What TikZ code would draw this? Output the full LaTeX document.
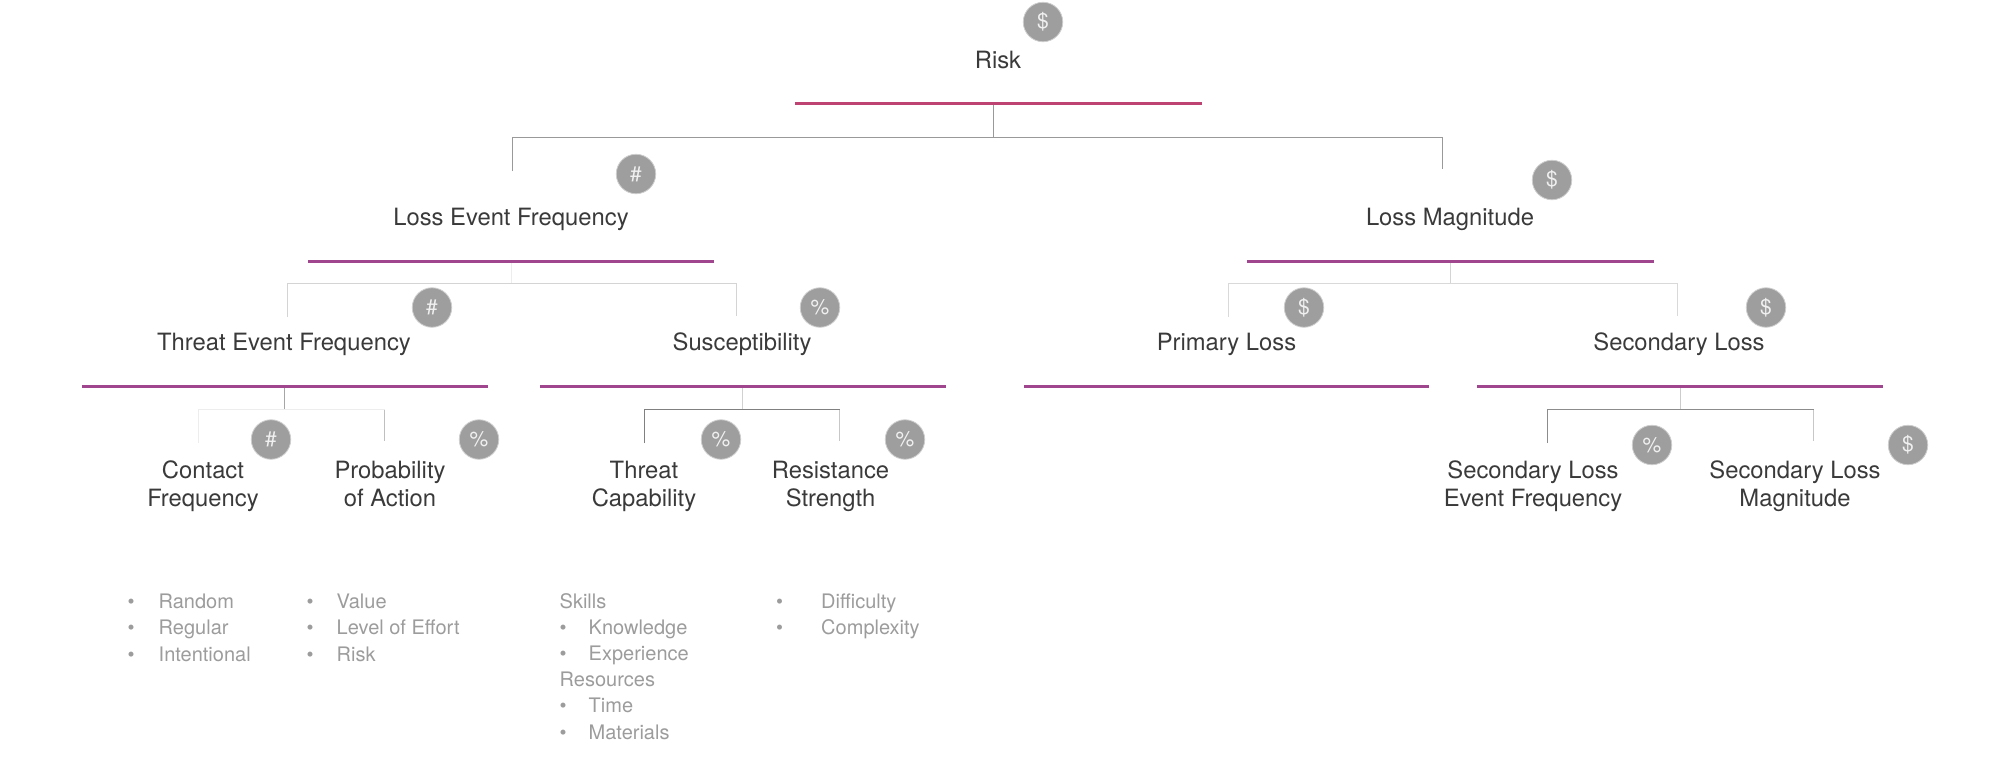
\documentclass[tikz,border=0pt]{standalone}
\usepackage{fontspec}
\setmainfont{TeX Gyre Heros}
\definecolor{inkc}{HTML}{3A3A3A}
\definecolor{listc}{HTML}{9C9C9C}
\definecolor{badgec}{HTML}{9E9E9E}
\definecolor{riskrule}{HTML}{BE4272}
\definecolor{purplerule}{HTML}{9F468F}
\tikzset{
  x=1pt,y=-1pt,
  label/.style={inner sep=0pt,align=center,text=inkc,font=\fontsize{23.8}{28}\selectfont,text height=17pt,text depth=5pt},
  badge/.style={circle,fill=badgec,draw=badgec!50,line width=0.8pt,minimum size=39.5pt,inner sep=0pt,text=white!94!black,font=\fontsize{21}{21}\selectfont},
  rulebar/.style={inner sep=0pt,minimum height=3pt,fill=purplerule},
  conn/.style={line width=1pt,draw=#1},
  conn/.default={gray!60},
  itemlist/.style={inner sep=0pt,align=left,anchor=base west,text=listc,font=\fontsize{20}{26.2}\selectfont},
}
\newcommand{\bul}[1]{\makebox[#1pt][l]{•}}
\begin{document}
\begin{tikzpicture}
\useasboundingbox (0,0) rectangle (1999,756);
% rules
\node[rulebar,fill=riskrule,minimum width=407pt] (rRisk) at (998.5,103.5) {};
\node[rulebar,minimum width=406pt] (rLEF) at (511,261.5) {};
\node[rulebar,minimum width=407pt] (rLM) at (1450.5,261.5) {};
\node[rulebar,minimum width=406pt] (rTEF) at (285,386.5) {};
\node[rulebar,minimum width=406pt] (rSus) at (743,386.5) {};
\node[rulebar,minimum width=405pt] (rPL) at (1226.5,386.5) {};
\node[rulebar,minimum width=406pt] (rSL) at (1680,386.5) {};
% labels
\node[label] (tRisk) at (998,62) {Risk};
\node[label] (tLEF) at (511,219.5) {Loss Event Frequency};
\node[label] (tLM) at (1450,219.5) {Loss Magnitude};
\node[label] (tTEF) at (284,344.5) {Threat Event Frequency};
\node[label] (tSus) at (742,344.5) {Susceptibility};
\node[label] (tPL) at (1226.5,344.5) {Primary Loss};
\node[label] (tSL) at (1679,344.5) {Secondary Loss};
\node[label] (tCF) at (203,500) {Contact\\Frequency};
\node[label] (tPA) at (390,500) {Probability\\of Action};
\node[label] (tTC) at (644,500) {Threat\\Capability};
\node[label] (tRS) at (830.5,500) {Resistance\\Strength};
\node[label] (tSLEF) at (1533,500) {Secondary Loss\\Event Frequency};
\node[label] (tSLM) at (1795,500) {Secondary Loss\\Magnitude};
% badges
\node[badge] (bRisk) at (1043,22) {\$};
\node[badge] (bLEF) at (636,174) {\#};
\node[badge] (bLM) at (1552,180) {\$};
\node[badge] (bTEF) at (432,307.5) {\#};
\node[badge] (bSus) at (820,307.5) {\%};
\node[badge] (bPL) at (1304,307.5) {\$};
\node[badge] (bSL) at (1766,307.5) {\$};
\node[badge] (bCF) at (271,439.5) {\#};
\node[badge] (bPA) at (479,439.5) {\%};
\node[badge] (bTC) at (721,439.5) {\%};
\node[badge] (bRS) at (905,439.5) {\%};
\node[badge] (bSLEF) at (1652,445) {\%};
\node[badge] (bSLM) at (1908,445) {\$};
% connector junctions and free ends
\coordinate (jRisk) at (993.5,137.5);
\coordinate (dLEF) at (512.5,171);
\coordinate (dLM) at (1442.5,169);
\coordinate (jLEF) at (511.5,283.5);
\coordinate (dTEF) at (287.5,317);
\coordinate (dSus) at (736.5,316);
\coordinate (jLM) at (1450.5,283.5);
\coordinate (dPL) at (1228.5,317);
\coordinate (dSL) at (1677.5,316);
\coordinate (jTEF) at (284.5,409.5);
\coordinate (dCF) at (198.5,443);
\coordinate (dPA) at (384.5,441);
\coordinate (jSus) at (742.5,409.5);
\coordinate (dTC) at (644.5,443);
\coordinate (dRS) at (839.5,441);
\coordinate (jSL) at (1680.5,409.5);
\coordinate (dSLEF) at (1547.5,443);
\coordinate (dSLM) at (1813.5,441);
% connectors
\draw[conn=black!40] (rRisk.south -| jRisk) -- (jRisk);
\draw[conn=black!40] (dLEF) |- (jRisk) -| (dLM);
\draw[conn=black!7] (rLEF.south -| jLEF) -- (jLEF);
\draw[conn=black!17] (dTEF) |- (jLEF) -| (dSus);
\draw[conn=black!17] (rLM.south -| jLM) -- (jLM);
\draw[conn=black!15] (dPL) |- (jLM) -| (dSL);
\draw[conn=black!35] (rTEF.south -| jTEF) -- (jTEF);
\draw[conn=black!7] (dCF) |- (jTEF) -- (jTEF -| dPA);
\draw[conn=black!25] (jTEF -| dPA) -- (dPA);
\draw[conn=black!18] (rSus.south -| jSus) -- (jSus);
\draw[conn=black!50] (dTC) |- (jSus) -- (jSus -| dRS);
\draw[conn=black!22] (jSus -| dRS) -- (dRS);
\draw[conn=black!20] (rSL.south -| jSL) -- (jSL);
\draw[conn=black!45] (dSLEF) |- (jSL) -- (jSL -| dSLM);
\draw[conn=black!22] (jSL -| dSLM) -- (dSLM);
% lists
\node[itemlist] (lCF) at (127.5,661) {\bul{31}Random\\\bul{31}Regular\\\bul{31}Intentional};
\node[itemlist] (lPA) at (306.5,661) {\bul{30}Value\\\bul{30}Level of Effort\\\bul{30}Risk};
\node[itemlist] (lTC) at (559.5,739) {Skills\\\bul{29}Knowledge\\\bul{29}Experience\\Resources\\\bul{29}Time\\\bul{29}Materials};
\node[itemlist] (lRS) at (776,634.5) {\bul{45}Difficulty\\\bul{45}Complexity};
\end{tikzpicture}
\end{document}
